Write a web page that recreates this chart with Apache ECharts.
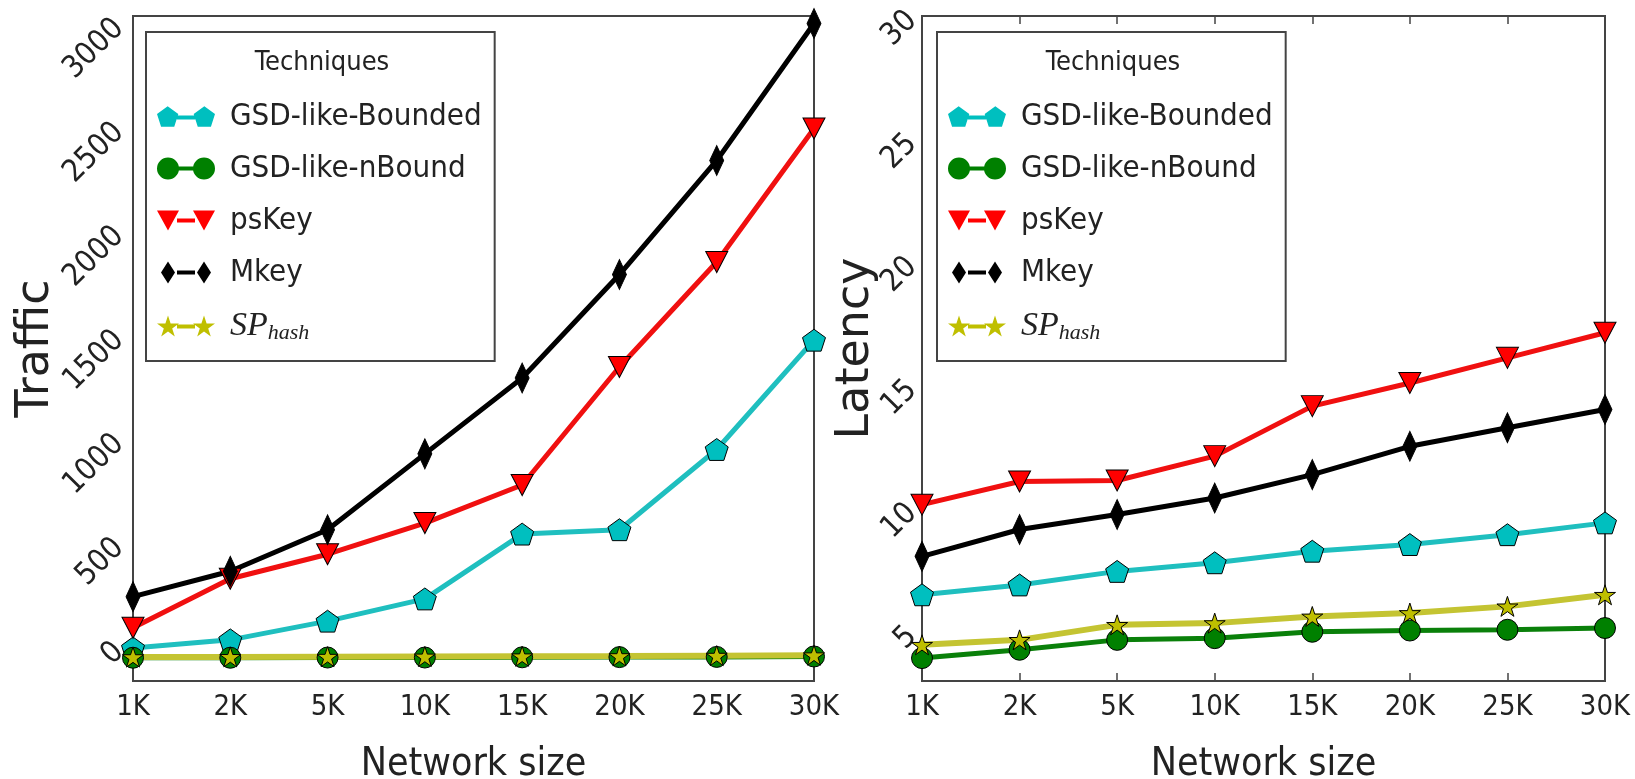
<!DOCTYPE html>
<html>
<head>
<meta charset="utf-8">
<script src="https://cdn.jsdelivr.net/npm/echarts@6/dist/echarts.min.js"></script>
<style>
  html, body { margin: 0; padding: 0; background: #fff; }
  #chart { width: 1635px; height: 779px; }
</style>
</head>
<body>
<div id="chart"></div>
<script>
// x categories shared by both panels
const networkSizes = ['1K', '2K', '5K', '10K', '15K', '20K', '25K', '30K'];
const techniqueNames = ['GSD-like-Bounded', 'GSD-like-nBound', 'psKey', 'Mkey', 'SP_hash'];

// left panel: Traffic
const trafficBounded = [49, 88, 178, 285, 597, 618, 1004, 1530];
const trafficNBound  = [2, 2, 3, 3, 4, 5, 6, 8];
const trafficPsKey   = [146, 382, 500, 650, 833, 1401, 1906, 2549];
const trafficMkey    = [296, 418, 618, 983, 1348, 1846, 2395, 3054];
const trafficSpHash  = [5, 6, 7, 8, 9, 10, 12, 14];

// right panel: Latency
const latencyBounded = [6.5, 6.9, 7.45, 7.8, 8.27, 8.54, 8.94, 9.42];
const latencyNBound  = [3.93, 4.27, 4.67, 4.74, 5.0, 5.05, 5.08, 5.15];
const latencyPsKey   = [10.16, 11.1, 11.14, 12.13, 14.16, 15.1, 16.12, 17.14];
const latencyMkey    = [8.06, 9.15, 9.76, 10.43, 11.38, 12.53, 13.28, 14.02];
const latencySpHash  = [4.47, 4.67, 5.28, 5.35, 5.62, 5.76, 6.03, 6.5];

const FONT = "'DejaVu Sans Condensed', 'DejaVu Sans', sans-serif";
const FONT_WIDE = "'DejaVu Sans', sans-serif";
const SERIF = "'Liberation Serif', serif";
const TEXT = '#222';
const FRAME = '#444';

// marker shapes
const PENTAGON = 'path://M11,0 L21.46,7.6 L17.47,19.9 L4.53,19.9 L0.54,7.6 Z';
const STAR = 'path://M10,0 L12.245,6.91 L19.511,6.91 L13.633,11.18 L15.878,18.09 L10,13.82 L4.122,18.09 L6.367,11.18 L0.489,6.91 L7.755,6.91 Z';

// legend icons: marker - line - marker, like matplotlib numpoints=2
const BAR = ' M20,9 L38,9 L38,13 L20,13 Z';
const legendIcons = {
  'GSD-like-Bounded': 'path://M11,0 L21.46,7.6 L17.47,19.9 L4.53,19.9 L0.54,7.6 Z M47,0 L57.46,7.6 L53.47,19.9 L40.53,19.9 L36.54,7.6 Z' + BAR,
  'GSD-like-nBound': 'path://M0,11 A11,11 0 1,1 22,11 A11,11 0 1,1 0,11 Z M36,11 A11,11 0 1,1 58,11 A11,11 0 1,1 36,11 Z' + BAR,
  'psKey': 'path://M0,1 L22,1 L11,21 Z M36,1 L58,1 L47,21 Z' + BAR,
  'Mkey': 'path://M11,0 L18,11 L11,22 L4,11 Z M47,0 L54,11 L47,22 L40,11 Z' + BAR,
  'SP_hash': 'path://M11,0 L13.6,8 L22,8 L15.2,13 L17.8,21 L11,16 L4.2,21 L6.8,13 L0,8 L8.4,8 Z M47,0 L49.6,8 L58,8 L51.2,13 L53.8,21 L47,16 L40.2,21 L42.8,13 L36,8 L44.4,8 Z' + BAR
};

const styles = {
  'GSD-like-Bounded': { line: '#1fbfbf', fill: '#00bfbf', symbol: PENTAGON, size: 23, width: 5 },
  'GSD-like-nBound':  { line: '#0a800a', fill: '#008000', symbol: 'circle', size: 21, width: 5 },
  'psKey':            { line: '#f01010', fill: '#ff0000', symbol: 'triangle', size: [22, 21], rotate: 180, width: 5 },
  'Mkey':             { line: '#000000', fill: '#000000', symbol: 'diamond', size: [14, 30], width: 5 },
  'SP_hash':          { line: '#c4c432', fill: '#bfbf00', symbol: STAR, size: 21, width: 6 }
};

function makeSeries(name, values, idx) {
  const st = styles[name];
  return {
    name: name,
    type: 'line',
    xAxisIndex: idx * 2,
    yAxisIndex: idx * 2,
    data: values,
    symbol: st.symbol,
    symbolSize: st.size,
    symbolRotate: st.rotate || 0,
    symbolKeepAspect: true,
    showAllSymbol: true,
    lineStyle: { color: st.line, width: st.width },
    itemStyle: { color: st.fill, borderColor: '#000', borderWidth: 1 },
    emphasis: { disabled: true },
    animation: false
  };
}

function makeLegend(left) {
  return {
    orient: 'vertical',
    left: left,
    top: 32,
    padding: [69, 13, 17, 11],
    itemWidth: 58,
    itemHeight: 22,
    itemGap: 21,
    backgroundColor: '#fff',
    borderColor: FRAME,
    borderWidth: 2,
    borderRadius: 0,
    selectedMode: false,
    itemStyle: { borderWidth: 0 },
    data: techniqueNames.map(n => ({ name: n, icon: legendIcons[n] })),
    formatter: n => n === 'SP_hash' ? '{sp|SP}{sub|hash}' : n,
    textStyle: {
      fontFamily: FONT,
      fontSize: 31,
      color: TEXT,
      padding: [0, 0, 0, 10],
      rich: {
        sp: { fontFamily: SERIF, fontStyle: 'italic', fontSize: 34, color: TEXT },
        sub: { fontFamily: SERIF, fontStyle: 'italic', fontSize: 22, color: TEXT, padding: [14, 0, 0, 0] }
      }
    }
  };
}

function makeGrid(left, width) {
  return {
    left: left, top: 16, width: width, height: 665,
    show: true, borderColor: FRAME, borderWidth: 2, backgroundColor: 'transparent',
    outerBoundsMode: 'none', containLabel: false
  };
}

const tick = { inside: true, length: 8, lineStyle: { color: FRAME, width: 1.5 } };

function makeXAxes(gi) {
  return [
    {
      type: 'category', gridIndex: gi, data: networkSizes, boundaryGap: false, position: 'bottom',
      axisLine: { show: false }, axisTick: tick,
      axisLabel: { fontFamily: FONT, fontSize: 29, color: TEXT, margin: 12 },
      name: 'Network size', nameLocation: 'middle', nameGap: 64, nameMoveOverlap: false,
      nameTextStyle: { fontFamily: FONT, fontSize: 39, color: TEXT }
    },
    {
      type: 'category', gridIndex: gi, data: networkSizes, boundaryGap: false, position: 'top',
      axisLine: { show: false }, axisTick: tick, axisLabel: { show: false }
    }
  ];
}

function makeYAxes(gi, min, max, name, gap, vAlign, margin) {
  return [
    {
      type: 'value', gridIndex: gi, min: min, max: max, splitNumber: 5, position: 'left',
      splitLine: { show: false }, axisLine: { show: false }, axisTick: tick,
      axisLabel: {
        rotate: 45, fontFamily: FONT, fontSize: 31, color: TEXT, margin: margin,
        align: 'right', verticalAlign: vAlign,
        formatter: v => String(v),
        showMinLabel: false, showMaxLabel: max === 30
      },
      name: name, nameLocation: 'middle', nameGap: gap, nameMoveOverlap: false,
      nameTextStyle: { fontFamily: FONT_WIDE, fontSize: 46, color: TEXT }
    },
    {
      type: 'value', gridIndex: gi, min: min, max: max, splitNumber: 5, position: 'right',
      splitLine: { show: false }, axisLine: { show: false }, axisTick: tick, axisLabel: { show: false }
    }
  ];
}

const chart = echarts.init(document.getElementById('chart'), null, { renderer: 'canvas' });

chart.setOption({
  backgroundColor: '#fff',
  animation: false,
  grid: [makeGrid(133, 681), makeGrid(922, 683)],
  xAxis: [...makeXAxes(0), ...makeXAxes(1)],
  yAxis: [
    ...makeYAxes(0, -110, 3090, 'Traffic', 74, 'bottom', 3),
    ...makeYAxes(1, 3, 30, 'Latency', 43, 'middle', 10)
  ],
  legend: [makeLegend(146), makeLegend(937)],
  graphic: [
    { type: 'text', x: 322, y: 63, style: { text: 'Techniques', align: 'center', verticalAlign: 'middle', fontFamily: FONT, fontSize: 27, fill: TEXT }, z: 100 },
    { type: 'text', x: 1113, y: 63, style: { text: 'Techniques', align: 'center', verticalAlign: 'middle', fontFamily: FONT, fontSize: 27, fill: TEXT }, z: 100 }
  ],
  series: [
    makeSeries('GSD-like-Bounded', trafficBounded, 0),
    makeSeries('GSD-like-nBound', trafficNBound, 0),
    makeSeries('psKey', trafficPsKey, 0),
    makeSeries('Mkey', trafficMkey, 0),
    makeSeries('SP_hash', trafficSpHash, 0),
    makeSeries('GSD-like-Bounded', latencyBounded, 1),
    makeSeries('GSD-like-nBound', latencyNBound, 1),
    makeSeries('psKey', latencyPsKey, 1),
    makeSeries('Mkey', latencyMkey, 1),
    makeSeries('SP_hash', latencySpHash, 1)
  ]
});

window.addEventListener('resize', () => chart.resize());
</script>
</body>
</html>
